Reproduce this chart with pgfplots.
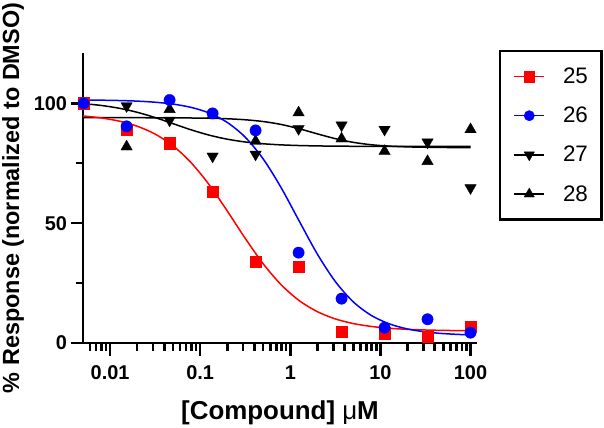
\documentclass[border=0pt]{standalone}
\usepackage{fontspec}
\setmainfont{Liberation Sans}
\usepackage{pgfplots}
\pgfplotsset{compat=1.18}
\definecolor{myred}{RGB}{255,0,0}
\definecolor{myblue}{RGB}{0,0,255}
\begin{document}
\begin{tikzpicture}
\begin{axis}[
  at={(83bp,85bp)}, anchor=south west,
  scale only axis, width=394bp, height=290bp,
  xmode=log, xmin=0.005, xmax=118, ymin=0, ymax=121,
  axis x line*=bottom, axis y line*=left,
  axis line style={line width=2.8bp, -},
  tick align=outside,
  every tick/.style={line width=2.4bp, draw=black},
  major tick length=12.5bp, minor tick length=7.5bp,
  xtick={0.01,0.1,1,10,100},
  xticklabels={0.01,0.1,1,10,100},
  minor xtick={0.006,0.007,0.008,0.009,0.02,0.03,0.04,0.05,0.06,0.07,0.08,0.09,0.2,0.3,0.4,0.5,0.6,0.7,0.8,0.9,2,3,4,5,6,7,8,9,20,30,40,50,60,70,80,90},
  ytick={0,50,100}, yticklabels={0,50,100},
  minor ytick={25,75},
  ticklabel style={font=\bfseries\fontsize{20}{20}\selectfont},
  xticklabel style={yshift=-6.5bp},
  xlabel={\bfseries[Compound] {\mdseries μ}M},
  xlabel style={at={(axis description cs:0.5,-0.263)}, anchor=base, font=\fontsize{26}{26}\selectfont},
  ylabel={\bfseries\% Response (normalized to DMSO)},
  ylabel style={at={(axis description cs:-0.1624,0.5)}, anchor=base, font=\fontsize{23.5}{23.5}\selectfont},
  clip=false,
  legend style={at={(axis description cs:1.0584,1.0069)}, anchor=north west,
    draw=black, line width=2.5bp, outer sep=0pt,
    inner xsep=13.5bp, inner ysep=17bp, row sep=22bp,
    font=\fontsize{22.5}{22.5}\selectfont,
    nodes={inner sep=0pt}},
  legend cell align=left,
  legend image code/.code={
    \draw[#1, mark repeat=2, mark phase=2] plot coordinates {(0bp,0bp) (15bp,0bp) (30bp,0bp)};
    \path (48bp,0bp);
  },
]
\addlegendimage{myred, line width=1.5bp, mark=square*, mark size=5.2bp, mark options={solid, line width=0.3bp}}
\addlegendentry{25}
\addlegendimage{myblue, line width=1.5bp, mark=*, mark size=5.2bp, mark options={solid, line width=0.3bp}}
\addlegendentry{26}
\addlegendimage{black, line width=1.5bp, mark=triangle*, mark size=6bp, mark options={solid, rotate=180, line width=0.3bp}}
\addlegendentry{27}
\addlegendimage{black, line width=1.5bp, mark=triangle*, mark size=6bp, mark options={solid, line width=0.3bp}}
\addlegendentry{28}

% axis tick marks (outside), drawn through the axis
\pgfplotsinvokeforeach{0.01,0.1,1,10,100}{
  \addplot[forget plot, black, line width=2.4bp, mark=none] coordinates {(#1,0) (#1,-5.2)};
}
\pgfplotsinvokeforeach{0.006,0.007,0.008,0.009,0.02,0.03,0.04,0.05,0.06,0.07,0.08,0.09,0.2,0.3,0.4,0.5,0.6,0.7,0.8,0.9,2,3,4,5,6,7,8,9,20,30,40,50,60,70,80,90}{
  \addplot[forget plot, black, line width=2.4bp, mark=none] coordinates {(#1,0) (#1,-3.1)};
}
\pgfplotsinvokeforeach{0,50,100}{
  \addplot[forget plot, black, line width=2.4bp, mark=none] coordinates {(0.005,#1) (0.003634,#1)};
}
\pgfplotsinvokeforeach{25,75}{
  \addplot[forget plot, black, line width=2.4bp, mark=none] coordinates {(0.005,#1) (0.00413,#1)};
}

% fitted curves (black)
\addplot[forget plot, black, line width=1.5bp, smooth] coordinates {
(0.00501,99.87)(0.00794,99.12)(0.01259,97.95)(0.01995,96.27)(0.03162,94.05)(0.05012,91.49)
(0.07943,88.93)(0.1259,86.72)(0.1995,85.04)(0.3162,83.87)(0.5012,83.12)(0.7943,82.66)
(1.259,82.39)(1.995,82.23)(3.162,82.13)(5.012,82.08)(7.943,82.04)(12.59,82.03)
(19.95,82.02)(31.62,82.01)(50.12,82.01)(79.43,82.0)(100,82.0)};
\addplot[forget plot, black, line width=1.5bp, smooth] coordinates {
(0.00501,94.0)(0.01259,94.0)(0.03162,93.97)(0.07943,93.88)(0.1259,93.77)(0.1995,93.56)
(0.3162,93.14)(0.5012,92.40)(0.7943,91.17)(1.259,89.38)(1.995,87.26)(3.162,85.25)
(5.012,83.71)(7.943,82.71)(12.59,82.14)(19.95,81.83)(31.62,81.67)(50.12,81.58)(79.43,81.54)(100,81.53)};
% 27 points
\addplot[forget plot, only marks, black, mark=triangle*, mark size=6.6bp, mark options={rotate=180, line width=0.3bp}] coordinates {
(0.00508,100)(0.01524,98.9)(0.04572,92.9)(0.1372,77.9)(0.4115,78.7)(1.235,89.4)(3.704,90.9)(11.11,89.1)(33.33,83.8)(100,64.7)};
% 28 points
\addplot[forget plot, only marks, black, mark=triangle*, mark size=6.6bp, mark options={line width=0.3bp}] coordinates {
(0.00508,100)(0.01524,81.9)(0.04572,97.5)(0.1372,95)(0.4115,84.2)(1.235,96.1)(3.704,85.2)(11.11,80.0)(33.33,75.8)(100,89.1)};
% 25 curve and points
\addplot[forget plot, myred, line width=1.5bp, smooth] coordinates {
(0.00501,94.73)(0.00794,93.91)(0.01259,92.58)(0.01995,90.46)(0.03162,87.16)(0.05012,82.21)
(0.07943,75.19)(0.1259,65.99)(0.1995,55.10)(0.3162,43.64)(0.5012,33.01)(0.7943,24.23)
(1.259,17.65)(1.995,13.07)(3.162,10.04)(5.012,8.10)(7.943,6.90)(12.59,6.15)
(19.95,5.70)(31.62,5.42)(50.12,5.26)(79.43,5.15)(100,5.12)};
\addplot[forget plot, only marks, myred, mark=square*, mark size=5.8bp, mark options={line width=0.3bp}] coordinates {
(0.00508,100)(0.01524,89.1)(0.04572,83.3)(0.1372,63.2)(0.4115,33.9)(1.235,31.8)(3.704,4.7)(11.11,4.2)(33.33,2.6)(100,6.8)};
% 26 curve and points
\addplot[forget plot, myblue, line width=1.5bp, smooth] coordinates {
(0.00501,101.40)(0.00794,101.31)(0.01259,101.17)(0.01995,100.92)(0.03162,100.46)(0.05012,99.67)
(0.07943,98.30)(0.1259,95.95)(0.1995,92.04)(0.3162,85.86)(0.5012,76.74)(0.7943,64.68)
(1.259,50.78)(1.995,37.11)(3.162,25.61)(5.012,17.13)(7.943,11.48)(12.59,7.96)
(19.95,5.86)(31.62,4.62)(50.12,3.92)(79.43,3.52)(100,3.39)};
\addplot[forget plot, only marks, myblue, mark=*, mark size=5.7bp, mark options={line width=0.3bp}] coordinates {
(0.00508,100)(0.01524,90.4)(0.04572,101.4)(0.1372,95.8)(0.4115,88.7)(1.235,37.7)(3.704,18.5)(11.11,6.4)(33.33,9.9)(100,4.3)};
\end{axis}
\pgfresetboundingbox
\useasboundingbox (0bp,0bp) rectangle (604bp,428bp);
\end{tikzpicture}
\end{document}
